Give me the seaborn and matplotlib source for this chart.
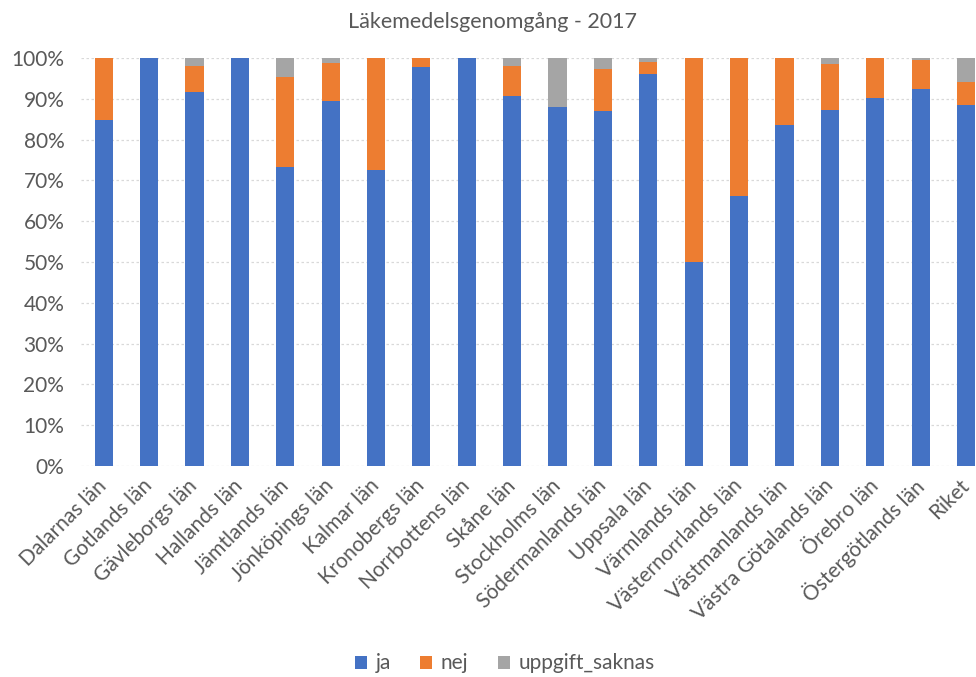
import matplotlib
matplotlib.use("Agg")
import matplotlib.pyplot as plt
import seaborn as sns
import pandas as pd
from matplotlib.patches import Patch
from matplotlib.ticker import PercentFormatter

regions = ["Dalarnas län", "Gotlands län", "Gävleborgs län", "Hallands län",
           "Jämtlands län", "Jönköpings län", "Kalmar län", "Kronobergs län",
           "Norrbottens län", "Skåne län", "Stockholms län", "Södermanlands län",
           "Uppsala län", "Värmlands län", "Västernorrlands län", "Västmanlands län",
           "Västra Götalands län", "Örebro län", "Östergötlands län", "Riket"]
ja = [84.8, 100.0, 91.7, 100.0, 73.3, 89.5, 72.5, 97.8, 100.0, 90.8,
      87.9, 87.0, 96.1, 50.0, 66.2, 83.6, 87.2, 90.2, 92.5, 88.5]
nej = [15.2, 0.0, 6.3, 0.0, 22.0, 9.4, 27.5, 2.2, 0.0, 7.3,
       0.0, 10.2, 3.0, 50.0, 33.8, 16.4, 11.3, 9.8, 7.1, 5.7]
uppgift_saknas = [0.0, 0.0, 2.0, 0.0, 4.7, 1.1, 0.0, 0.0, 0.0, 1.9,
                  12.1, 2.8, 0.9, 0.0, 0.0, 0.0, 1.5, 0.0, 0.4, 5.8]
series_names = ["ja", "nej", "uppgift_saknas"]
colors = ["#4472C4", "#ED7D31", "#A5A5A5"]

df = pd.DataFrame({"region": regions, "ja": ja, "nej": nej,
                   "uppgift_saknas": uppgift_saknas})
df["c_ja"] = df["ja"]
df["c_nej"] = df["ja"] + df["nej"]
df["c_all"] = df["c_nej"] + df["uppgift_saknas"]

sns.set_theme(style="white")
plt.rcParams["font.family"] = ["Lato", "DejaVu Sans"]
text_col = "#595959"
fs = 15

fig = plt.figure(figsize=(9.76, 6.77), dpi=100)
ax = fig.add_axes([0.083, 0.3117, 0.917, 0.6026])

# Stacked bars: draw cumulative totals from the top segment down
for col, color in zip(["c_all", "c_nej", "c_ja"], colors[::-1]):
    sns.barplot(data=df, x="region", y=col, color=color, width=0.4,
                saturation=1, ax=ax, zorder=3, errorbar=None, linewidth=0)

ax.set_ylim(0, 100)
ax.set_xlim(-0.5, 19.22)
ax.yaxis.set_major_locator(plt.MultipleLocator(10))
ax.yaxis.set_major_formatter(PercentFormatter(decimals=0))
ax.grid(axis="y", color="#D9D9D9", linestyle=(0, (2, 2)), linewidth=0.9, zorder=0)
ax.grid(axis="x", visible=False)
for s in ax.spines.values():
    s.set_visible(False)
ax.set_xlabel("")
ax.set_ylabel("")
ax.tick_params(axis="y", labelsize=fs, colors=text_col, length=0, pad=12)
ax.tick_params(axis="x", labelsize=fs, colors=text_col, length=0, pad=12)
for lab in ax.get_xticklabels():
    lab.set_rotation(45)
    lab.set_ha("right")
    lab.set_va("center")
    lab.set_rotation_mode("anchor")

fig.text(0.505, 0.968, "Läkemedelsgenomgång - 2017", ha="center", va="center",
         fontsize=15.5, color=text_col)

handles = [Patch(facecolor=c, edgecolor="none") for c in colors]
fig.legend(handles, series_names, loc="center", bbox_to_anchor=(0.517, 0.02),
           ncol=3, frameon=False, fontsize=fs, handlelength=0.6,
           handleheight=0.6, handletextpad=0.4, columnspacing=1.4,
           labelcolor=text_col)

fig.savefig("out.png", dpi=100)
